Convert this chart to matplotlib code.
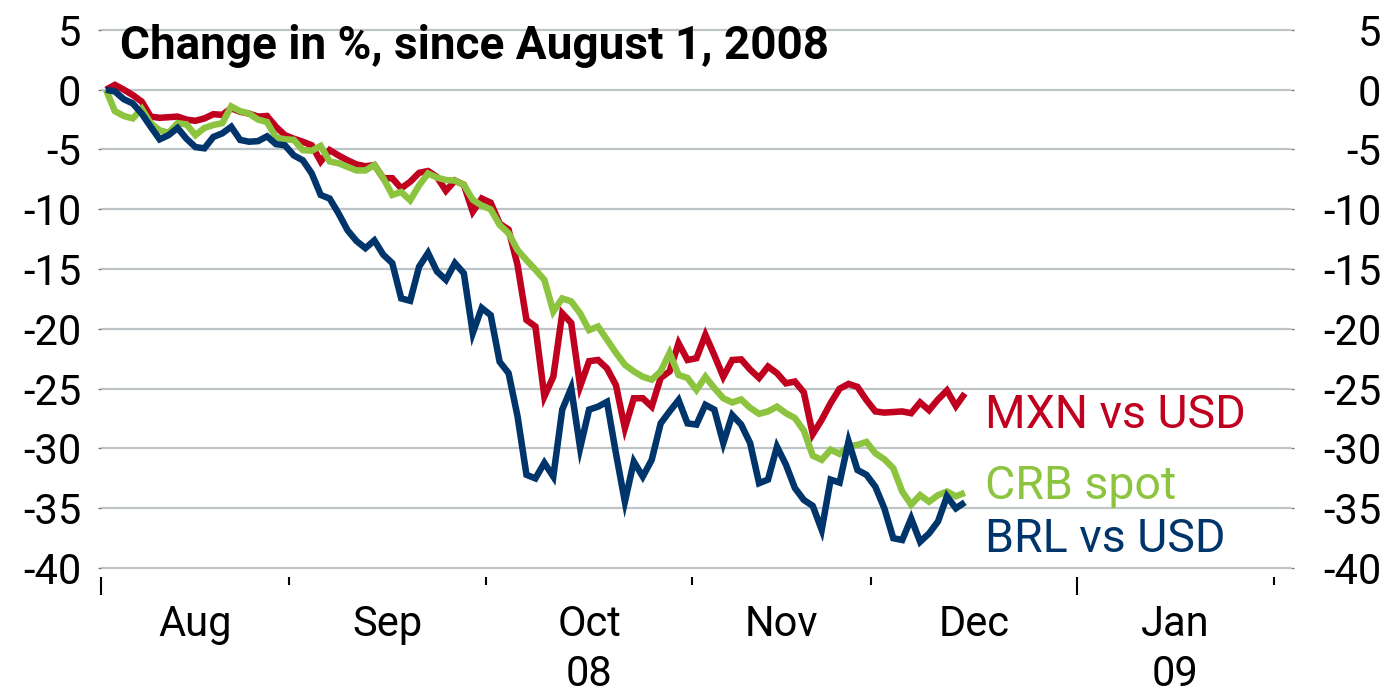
import numpy as np
import pandas as pd
import matplotlib
matplotlib.use("Agg")
import matplotlib.pyplot as plt
import matplotlib.transforms as mtransforms

# ---------------- data (change in %, business days from 2008-08-01) -------------
mxn_vs_usd = [0, 0.4, 0.0, -0.45, -1.0, -2.25, -2.35, -2.3, -2.25, -2.5,
              -2.6, -2.4, -2.05, -2.1, -1.55, -1.85, -2.0, -2.25, -2.2, -3.1,
              -3.8, -4.1, -4.35, -4.65, -6.0, -5.05, -5.5, -5.9, -6.25, -6.4,
              -6.3, -7.4, -7.4, -8.25, -7.7, -6.95, -6.8, -7.3, -8.45, -7.6,
              -7.95, -10.2, -9.1, -9.45, -11.2, -11.7, -14.65, -19.25, -19.8, -25.65,
              -24.0, -18.7, -19.5, -24.8, -22.7, -22.6, -23.3, -24.7, -28.3, -25.8,
              -25.8, -26.5, -24.1, -23.55, -21.2, -22.6, -22.45, -20.5, -22.2, -24.0,
              -22.6, -22.55, -23.4, -24.1, -23.15, -23.7, -24.55, -24.4, -25.3, -28.8,
              -27.6, -26.2, -25.0, -24.6, -24.85, -25.95, -26.9, -27.0, -26.95, -26.9,
              -27.05, -26.15, -26.8, -25.9, -25.15, -26.45, -25.4]
crb_spot = [0, -1.8, -2.2, -2.4, -1.6, -2.8, -3.4, -3.6, -2.8, -2.9,
            -3.8, -3.2, -2.95, -2.8, -1.4, -1.8, -2.0, -2.5, -2.7, -4.0,
            -4.15, -4.2, -5.05, -5.1, -4.7, -6.0, -6.15, -6.45, -6.75, -6.75,
            -6.3, -7.4, -8.8, -8.55, -9.25, -8.0, -7.0, -7.35, -7.55, -7.6,
            -7.95, -9.2, -9.7, -10.0, -11.3, -12.0, -13.4, -14.25, -15.05, -15.9,
            -18.55, -17.45, -17.7, -18.7, -20.1, -19.8, -20.9, -22.0, -23.0, -23.55,
            -24.0, -24.25, -23.55, -22.0, -23.85, -24.1, -25.1, -24.0, -24.95, -25.8,
            -26.15, -25.9, -26.6, -27.1, -26.9, -26.5, -27.05, -27.45, -28.5, -30.6,
            -30.95, -30.1, -30.45, -29.8, -29.7, -29.45, -30.4, -30.9, -31.65, -33.6,
            -34.7, -33.9, -34.45, -33.9, -33.6, -34.0, -33.7]
brl_vs_usd = [0, -0.15, -0.8, -1.15, -2.0, -3.1, -4.15, -3.8, -3.2, -4.1,
              -4.8, -4.9, -3.95, -3.65, -3.1, -4.2, -4.35, -4.3, -3.9, -4.55,
              -4.65, -5.5, -5.9, -7.0, -8.8, -9.1, -10.35, -11.75, -12.65, -13.25,
              -12.6, -13.8, -14.5, -17.45, -17.65, -14.8, -13.65, -15.2, -15.9, -14.5,
              -15.35, -20.35, -18.25, -18.85, -22.75, -23.7, -27.3, -32.2, -32.5, -31.2,
              -32.35, -26.75, -24.95, -29.95, -26.75, -26.5, -26.1, -30.4, -34.45, -31.1,
              -32.35, -30.95, -27.9, -26.9, -25.95, -27.9, -28.0, -26.35, -26.75, -29.55,
              -27.2, -28.0, -29.55, -32.9, -32.6, -29.85, -31.35, -33.3, -34.3, -34.8,
              -36.8, -32.6, -32.85, -29.4, -31.8, -32.2, -33.2, -35.0, -37.5, -37.65,
              -35.85, -37.8, -37.1, -36.1, -34.0, -35.0, -34.5]

series_names = ["MXN vs USD", "CRB spot", "BRL vs USD"]
series_colors = ["#C0001F", "#8DC43F", "#00356B"]
month_labels = ["Aug", "Sep", "Oct", "Nov", "Dec", "Jan"]
year_labels = {"Oct": "08", "Jan": "09"}
y_ticks = [5, 0, -5, -10, -15, -20, -25, -30, -35, -40]
title_text = "Change in %, since August 1, 2008"
axis_start, axis_end = "2008-08-01", "2009-02-28"

plt.rcParams["font.family"] = ["Roboto", "DejaVu Sans"]
FS = 30

# business-day category axis
days = pd.bdate_range(axis_start, axis_end)
per = days.to_period("M")
firsts = [i for i in range(len(days)) if i == 0 or per[i] != per[i - 1]]
bounds = [f - 0.5 for f in firsts][:7]          # Aug1 .. Feb1 boundaries
year_start = [b for b, f in zip(bounds, firsts) if days[f].month in (8, 1)]
other_bounds = [b for b in bounds if b not in year_start]

W, H = 1391, 694
fig = plt.figure(figsize=(W / 100, H / 100), dpi=100)

# pixel geometry
y0px, upx = 89.7, 11.96
ylo, yhi = -40.3, 5.3
x_left, x_right = 101.5, 1290.5
bot_px = y0px - ylo * upx
top_px = y0px - yhi * upx
ax = fig.add_axes([x_left / W, 1 - bot_px / H, (x_right - x_left) / W, (bot_px - top_px) / H])
ax.set_xlim(-0.5, 132.4)
ax.set_ylim(ylo, yhi)

# draw order: blue, red, green on top
order = [2, 0, 1]
allvals = [mxn_vs_usd, crb_spot, brl_vs_usd]
for k in order:
    vals = allvals[k]
    ax.plot(np.arange(len(vals)), vals, color=series_colors[k], lw=4.7,
            solid_joinstyle="miter", solid_capstyle="butt", zorder=3 + k)

for s in ax.spines.values():
    s.set_visible(False)
ax.spines["bottom"].set_position(("outward", 5.5 * 0.72))

ax.set_yticks(y_ticks)
ax.set_yticklabels([str(v) for v in y_ticks])
ax.yaxis.grid(True, color="#BFC4C8", lw=1.6)
ax.set_axisbelow(True)
ax.tick_params(axis="y", which="major", left=True, right=False, labelleft=True,
               labelright=False, length=2.5, width=1.0, color="#777777",
               labelsize=FS, pad=12)

ax2 = ax.twinx()
ax2.set_ylim(ylo, yhi)
for s in ax2.spines.values():
    s.set_visible(False)
ax2.set_yticks(y_ticks)
ax2.set_yticklabels([str(v) for v in y_ticks])
ax2.tick_params(axis="y", which="major", right=True, left=False, labelright=True,
                labelleft=False, length=2.5, width=1.0, color="#777777",
                labelsize=FS, pad=63)
for t in ax2.get_yticklabels():
    t.set_horizontalalignment("right")

ax.set_xticks(year_start)
ax.set_xticks(other_bounds, minor=True)
ax.tick_params(axis="x", which="major", length=13, width=1.5, color="black", labelbottom=False)
ax.tick_params(axis="x", which="minor", length=6, width=1.5, color="black", labelbottom=False)

trans = mtransforms.blended_transform_factory(ax.transData, fig.transFigure)
for i, m in enumerate(month_labels):
    cx = (bounds[i] + bounds[i + 1]) / 2
    ax.text(cx, 1 - 636 / H, m, transform=trans, ha="center", va="baseline", fontsize=FS)
    if m in year_labels:
        ax.text(cx, 1 - 686 / H, year_labels[m], transform=trans, ha="center",
                va="baseline", fontsize=FS)

fig.text(120 / W, 1 - 59 / H, title_text, fontsize=33, fontweight=600,
         ha="left", va="baseline", color="black")

label_base = [428, 499, 552]
for name, col, yb in zip(series_names, series_colors, label_base):
    fig.text(985 / W, 1 - yb / H, name, fontsize=33.5, color=col, ha="left", va="baseline")

fig.savefig("out.png", dpi=100)
